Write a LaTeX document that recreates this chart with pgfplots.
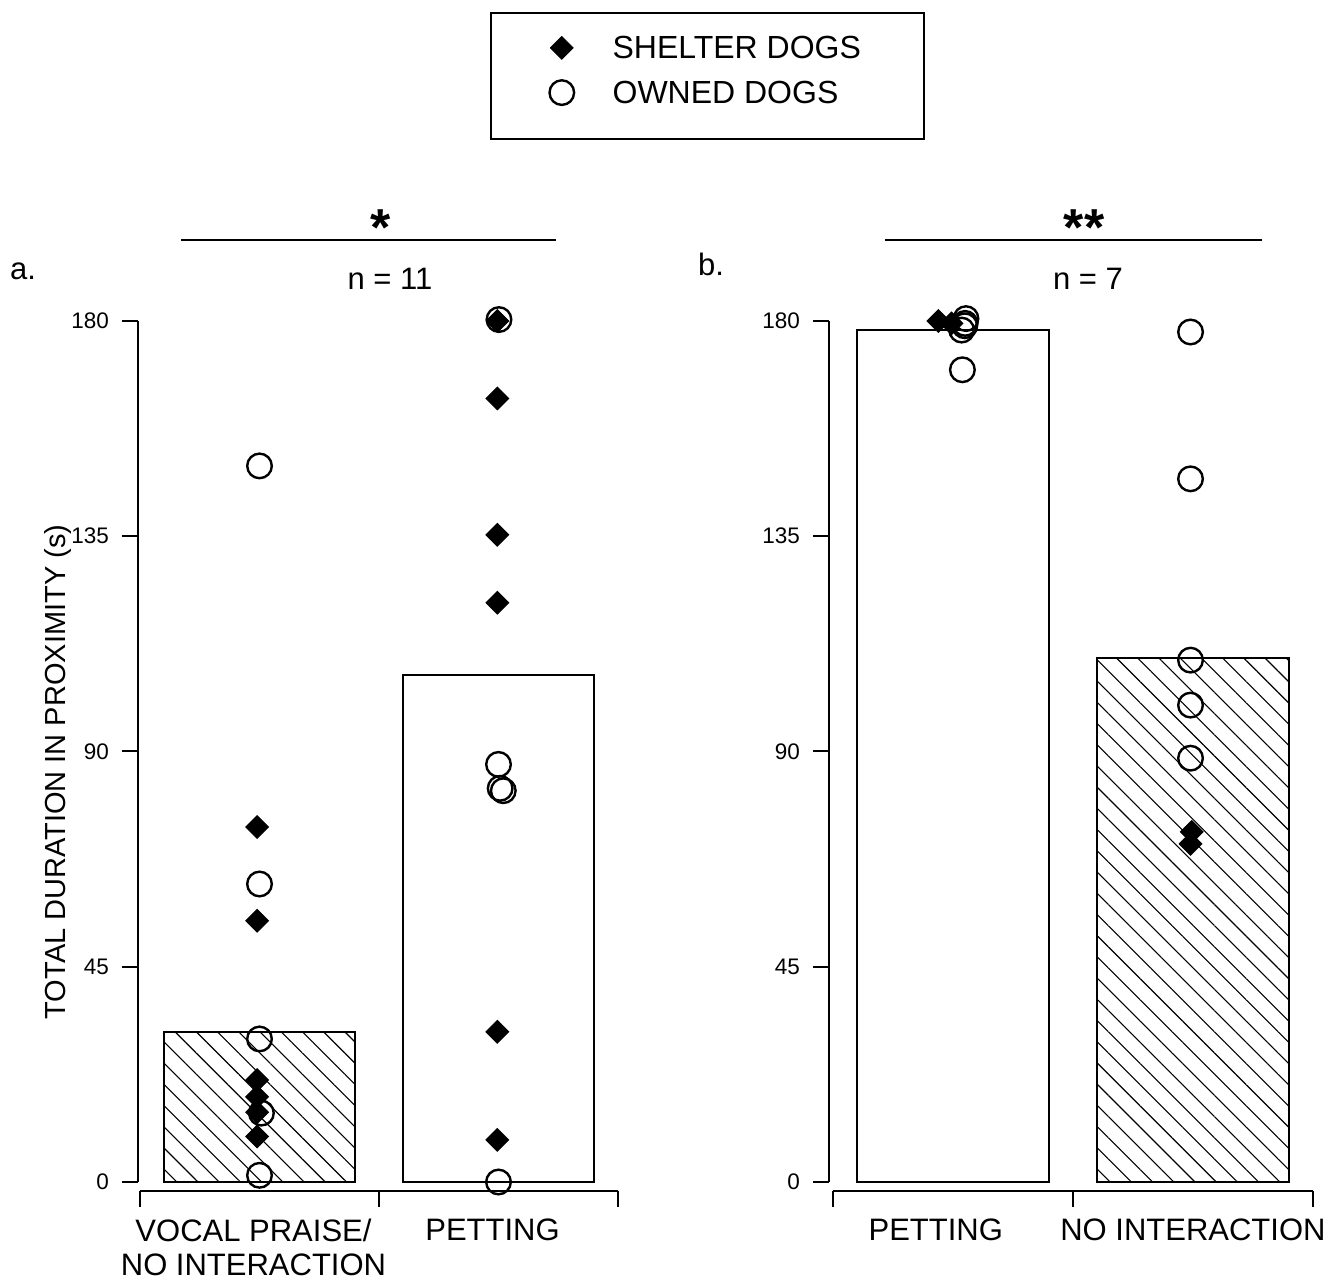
\documentclass[border=0pt]{standalone}
\usepackage{pgfplots}
\pgfplotsset{compat=1.18}
\usetikzlibrary{patterns.meta}
\usepackage{fontspec}
\setmainfont{Liberation Sans}
\newcommand{\fs}[2]{\fontsize{#1pt}{#2pt}\selectfont}

\pgfplotsset{
  panel/.style={
    scale only axis, anchor=south west, height=870pt,
    ymin=-1.8816, ymax=180, clip=false, enlargelimits=false,
    axis line style={draw=none},
    tick align=outside, major tick length=16pt,
    tick style={line width=2pt, black},
    xtick pos=bottom, ytick pos=left,
    ytick={0,45,90,135,180},
    /pgf/number format/assume math mode=true,
    yticklabel style={font=\fs{22.5}{22.5}, inner sep=0pt, xshift=-13pt},
    xtick={0.5,1.5,2.5}, xticklabels={},
    extra x ticks={1,2},
    extra x tick style={major tick length=0pt},
    xticklabel style={font=\fs{31}{33.5}, align=center, inner sep=0pt, anchor=north, yshift=-28pt},
  },
  hatchbar/.style={ybar, bar width=0.8, bar shift=0pt, draw=black, line width=2.2pt,
    pattern={Lines[angle=-45,distance=15pt,line width=1.1pt]}, forget plot},
  plainbar/.style={ybar, bar width=0.8, bar shift=0pt, draw=black, line width=2.2pt, fill=white, forget plot},
  shelter/.style={only marks, mark=square*, mark size=8pt,
    mark options={rotate=45, fill=black, draw=black, line width=1pt}},
  owned/.style={only marks, mark=o, mark size=12.3pt,
    mark options={draw=black, line width=2.4pt, fill=none}},
}

\begin{document}
\begin{tikzpicture}
\path[use as bounding box] (0pt,0pt) rectangle (1331pt,1281pt);

% ---------- panel a ----------
\begin{axis}[panel, at={(138pt,90pt)}, width=480pt, xmin=0.4916, xmax=2.5,
  extra x tick labels={{VOCAL PRAISE/\\NO INTERACTION},{PETTING}},
  xticklabel style={xshift=-6pt},
  legend style={at={(axis description cs:0.8573,1.3276)}, anchor=north west,
    draw=none, fill=none, inner sep=0pt, outer sep=0pt,
    /tikz/row sep=20.5pt, /tikz/column sep=38.5pt,
    font=\fs{32}{32}, nodes={inner sep=0pt}},
  legend cell align=left,
  legend image code/.code={\draw[#1] plot coordinates {(0pt,0pt)};},
]
\addplot[hatchbar] coordinates {(1,31.4)};
\addplot[plainbar] coordinates {(2,106.0)};
\addplot[shelter] coordinates {
 (0.99,74.2) (0.99,54.6) (0.99,21.3) (0.99,17.8) (0.99,14.6) (0.99,9.5)
 (1.995,180) (1.995,163.8) (1.995,135.3) (1.995,121.1) (1.995,31.4) (1.995,8.8)};
\addlegendentry{SHELTER DOGS}
\addplot[owned] coordinates {
 (1.0,149.7) (1.0,62.3) (1.0,29.9) (1.008,14.4) (1.0,1.4)
 (2.002,180.3) (2.0,87.3) (2.007,82.3) (2.02,81.8) (2.0,0)};
\addlegendentry{OWNED DOGS}
\draw[line width=2pt] (axis cs:0.4916,0) -- (axis cs:0.4916,180);
\draw[line width=2pt] (axis cs:0.5,-1.8816) -- (axis cs:2.5,-1.8816);
\end{axis}

% ---------- panel b ----------
\begin{axis}[panel, at={(829pt,90pt)}, width=484pt, xmin=0.4846, xmax=2.5,
  extra x tick labels={{PETTING\kern34pt},{NO INTERACTION}},
]
\addplot[plainbar] coordinates {(1,178.1)};
\addplot[hatchbar] coordinates {(2,109.5)};
\addplot[shelter] coordinates {
 (0.94,180) (0.995,179.5) (1.995,73.2) (1.99,70.7)};
\addplot[owned] coordinates {
 (1.055,180.5) (1.051,179.5) (1.05,179.0) (1.037,178.1) (1.04,169.8)
 (1.99,177.7) (1.99,147.0) (1.99,109.1) (1.99,99.7) (1.99,88.6)};
\draw[line width=2pt] (axis cs:0.4846,0) -- (axis cs:0.4846,180);
\draw[line width=2pt] (axis cs:0.5,-1.8816) -- (axis cs:2.5,-1.8816);
\end{axis}

% ---------- annotations ----------
\draw[line width=2pt] (491pt,1268pt) rectangle (924pt,1142pt);
\node[rotate=90, anchor=center, inner sep=0pt] at (58pt,509pt) {\fs{29}{29}TOTAL DURATION IN PROXIMITY (s)};
\draw[line width=2pt] (181pt,1041pt) -- (556pt,1041pt);
\draw[line width=2pt] (885pt,1041pt) -- (1262pt,1041pt);
\node[anchor=north, inner sep=0pt] at (381pt,1071pt) {\fs{52}{52}\bfseries *};
\node[anchor=north, inner sep=0pt] at (1084pt,1071pt) {\fs{52}{52}\bfseries **};
\node[anchor=base, inner sep=0pt] at (390pt,991pt) {\fs{31}{31}n = 11};
\node[anchor=base, inner sep=0pt] at (1088pt,991pt) {\fs{31}{31}n = 7};
\node[anchor=base west, inner sep=0pt] at (10pt,1001pt) {\fs{31}{31}a.};
\node[anchor=base west, inner sep=0pt] at (698pt,1005pt) {\fs{31}{31}b.};
\end{tikzpicture}
\end{document}
